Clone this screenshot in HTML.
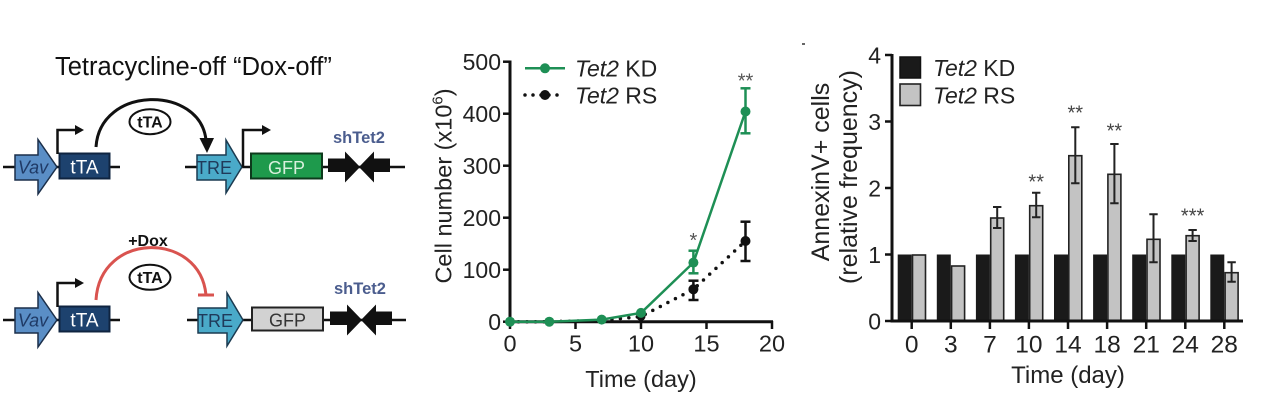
<!DOCTYPE html>
<html>
<head>
<meta charset="utf-8">
<style>
html,body{margin:0;padding:0;background:#fff;}
svg{display:block;font-family:"Liberation Sans",Arial,sans-serif;}
</style>
</head>
<body>
<svg width="1280" height="401" viewBox="0 0 1280 401" xmlns="http://www.w3.org/2000/svg">
<rect width="1280" height="401" fill="#fff"/>

<!-- ================= LEFT DIAGRAM ================= -->
<text x="55" y="75" font-size="25.5" fill="#111">Tetracycline-off “Dox-off”</text>

<!-- top row -->
<g id="row1">
  <line x1="3" y1="167" x2="120" y2="167" stroke="#111" stroke-width="2.5"/>
  <line x1="185" y1="167" x2="405" y2="167" stroke="#111" stroke-width="2.5"/>
  <polygon points="15,155 38,155 38,139.5 57,167 38,194 38,180 15,180" fill="#5a8ec6" stroke="#1b2f4a" stroke-width="1.5"/>
  <text x="33" y="173.5" font-size="18" font-style="italic" fill="#1f3a66" text-anchor="middle">Vav</text>
  <rect x="59.5" y="153.5" width="50" height="25" fill="#1d426e" stroke="#0f2440" stroke-width="2"/>
  <text x="84.5" y="173.5" font-size="19" fill="#fff" text-anchor="middle">tTA</text>
  <path d="M57.5 154 V130 H77" fill="none" stroke="#111" stroke-width="2.5"/>
  <polygon points="75,125 84,130 75,135" fill="#111"/>
  <path d="M96 147 C100 85, 200 85, 206 140" fill="none" stroke="#111" stroke-width="3"/>
  <polygon points="199.5,138 214,138 207,153" fill="#111"/>
  <ellipse cx="150" cy="121.7" rx="20.5" ry="12.5" fill="#fff" stroke="#111" stroke-width="2"/>
  <text x="150" y="127.5" font-size="16" font-weight="bold" fill="#111" text-anchor="middle">tTA</text>
  <polygon points="197,155 226,155 226,140 242,167 226,193 226,180 197,180" fill="#4aaac9" stroke="#1b3a50" stroke-width="1.5"/>
  <text x="214" y="174" font-size="18" fill="#1f3a5a" text-anchor="middle">TRE</text>
  <path d="M243 167 V130 H264" fill="none" stroke="#111" stroke-width="2.5"/>
  <polygon points="262,125 271,130 262,135" fill="#111"/>
  <rect x="251" y="153.5" width="71" height="25" fill="#1e9a4c" stroke="#0d3a1c" stroke-width="2"/>
  <text x="286.5" y="174" font-size="18" fill="#d8f0dc" text-anchor="middle">GFP</text>
  <rect x="328" y="158.5" width="19" height="13.5" fill="#111"/>
  <polygon points="345,151.5 360,167 345,182.5" fill="#111"/>
  <polygon points="374,151.5 359,167 374,182.5" fill="#111"/>
  <rect x="371" y="158.5" width="19" height="13.5" fill="#111"/>
  <text x="333" y="143" font-size="16.5" font-weight="bold" fill="#4b5d8e">shTet2</text>
</g>

<!-- bottom row -->
<g transform="translate(0,153)">
  <line x1="3" y1="167" x2="120" y2="167" stroke="#111" stroke-width="2.5"/>
  <line x1="187" y1="167" x2="406" y2="167" stroke="#111" stroke-width="2.5"/>
  <polygon points="15,155 38,155 38,139.5 57,167 38,194 38,180 15,180" fill="#5a8ec6" stroke="#1b2f4a" stroke-width="1.5"/>
  <text x="33" y="173.5" font-size="18" font-style="italic" fill="#1f3a66" text-anchor="middle">Vav</text>
  <rect x="59.5" y="153.5" width="50" height="25" fill="#1d426e" stroke="#0f2440" stroke-width="2"/>
  <text x="84.5" y="173.5" font-size="19" fill="#fff" text-anchor="middle">tTA</text>
  <path d="M57.5 154 V130 H77" fill="none" stroke="#111" stroke-width="2.5"/>
  <polygon points="75,125 84,130 75,135" fill="#111"/>
  <path d="M96 147 C100 78, 200 78, 206 142" fill="none" stroke="#d9534f" stroke-width="3"/>
  <line x1="198" y1="142" x2="214" y2="142" stroke="#d9534f" stroke-width="3"/>
  <text x="148" y="93" font-size="16" font-weight="bold" fill="#111" text-anchor="middle">+Dox</text>
  <ellipse cx="150" cy="124.3" rx="20.5" ry="12.5" fill="#fff" stroke="#111" stroke-width="2"/>
  <text x="150" y="130" font-size="16" font-weight="bold" fill="#111" text-anchor="middle">tTA</text>
  <polygon points="198,155 227,155 227,140 243,167 227,193 227,180 198,180" fill="#4aaac9" stroke="#1b3a50" stroke-width="1.5"/>
  <text x="215" y="174" font-size="18" fill="#1f3a5a" text-anchor="middle">TRE</text>
  <rect x="252" y="154.5" width="71" height="23" fill="#d2d2d2" stroke="#222" stroke-width="2"/>
  <text x="287.5" y="173.5" font-size="18" fill="#333" text-anchor="middle">GFP</text>
  <rect x="330" y="158.5" width="19" height="13.5" fill="#111"/>
  <polygon points="347,151.5 362,167 347,182.5" fill="#111"/>
  <polygon points="376,151.5 361,167 376,182.5" fill="#111"/>
  <rect x="373" y="158.5" width="19" height="13.5" fill="#111"/>
  <text x="334" y="141" font-size="16.5" font-weight="bold" fill="#4b5d8e">shTet2</text>
</g>

<!-- ================= MIDDLE LINE CHART ================= -->
<g>
  <!-- axes -->
  <line x1="510" y1="60.5" x2="510" y2="323" stroke="#111" stroke-width="3"/>
  <line x1="508.5" y1="321.7" x2="773" y2="321.7" stroke="#111" stroke-width="3"/>
  <g stroke="#111" stroke-width="2.5">
    <line x1="503" y1="61.7" x2="510" y2="61.7"/>
    <line x1="503" y1="113.7" x2="510" y2="113.7"/>
    <line x1="503" y1="165.7" x2="510" y2="165.7"/>
    <line x1="503" y1="217.7" x2="510" y2="217.7"/>
    <line x1="503" y1="269.7" x2="510" y2="269.7"/>
    <line x1="503" y1="321.7" x2="510" y2="321.7"/>
    <line x1="510" y1="321" x2="510" y2="329"/>
    <line x1="575.5" y1="321" x2="575.5" y2="329"/>
    <line x1="641" y1="321" x2="641" y2="329"/>
    <line x1="706.5" y1="321" x2="706.5" y2="329"/>
    <line x1="772" y1="321" x2="772" y2="329"/>
  </g>
  <g font-size="23" fill="#222" text-anchor="end">
    <text x="501" y="70">500</text>
    <text x="501" y="122">400</text>
    <text x="501" y="174">300</text>
    <text x="501" y="226">200</text>
    <text x="501" y="278">100</text>
    <text x="501" y="330">0</text>
  </g>
  <g font-size="23.5" fill="#222" text-anchor="middle">
    <text x="510" y="351.5">0</text>
    <text x="575.5" y="351.5">5</text>
    <text x="641" y="351.5">10</text>
    <text x="706.5" y="351.5">15</text>
    <text x="772" y="351.5">20</text>
  </g>
  <text x="641" y="387" font-size="23.5" fill="#222" text-anchor="middle">Time (day)</text>
  <text transform="translate(451.5,186) rotate(-90)" font-size="23.5" fill="#222" text-anchor="middle">Cell number (x10<tspan font-size="15" dy="-9">6</tspan><tspan dy="9">)</tspan></text>

  <!-- black dotted series -->
  <polyline points="510,321.7 549.3,321.7 601.7,320.5 641,316.5 693.4,289.3 745.5,241" fill="none" stroke="#111" stroke-width="3.5" stroke-linecap="round" stroke-dasharray="0 8.5"/>
  <g stroke="#111" stroke-width="2.5">
    <line x1="693.4" y1="280.7" x2="693.4" y2="300"/>
    <line x1="688.5" y1="280.7" x2="698.5" y2="280.7"/>
    <line x1="688.5" y1="300" x2="698.5" y2="300"/>
    <line x1="745.5" y1="221.7" x2="745.5" y2="261"/>
    <line x1="740.5" y1="221.7" x2="750.5" y2="221.7"/>
    <line x1="740.5" y1="261" x2="750.5" y2="261"/>
  </g>
  <g fill="#111">
    <circle cx="693.4" cy="289.3" r="5"/>
    <circle cx="745.5" cy="241" r="5"/>
    <circle cx="641" cy="316.5" r="4.5"/>
  </g>

  <!-- green series -->
  <polyline points="510,321.7 549.3,321.7 601.7,319.6 641,312.9 693.4,262.6 745.5,111.5" fill="none" stroke="#1e8f55" stroke-width="2.5"/>
  <g stroke="#1e8f55" stroke-width="2.5">
    <line x1="693.4" y1="250.7" x2="693.4" y2="273.3"/>
    <line x1="688.5" y1="250.7" x2="698.5" y2="250.7"/>
    <line x1="688.5" y1="273.3" x2="698.5" y2="273.3"/>
    <line x1="745.5" y1="88.3" x2="745.5" y2="133.3"/>
    <line x1="740.5" y1="88.3" x2="750.5" y2="88.3"/>
    <line x1="740.5" y1="133.3" x2="750.5" y2="133.3"/>
  </g>
  <g fill="#1e8f55">
    <circle cx="510" cy="321.7" r="5"/>
    <circle cx="549.3" cy="321.7" r="5"/>
    <circle cx="601.7" cy="319.6" r="5"/>
    <circle cx="641" cy="312.9" r="5"/>
    <circle cx="693.4" cy="262.6" r="5"/>
    <circle cx="745.5" cy="111.5" r="5"/>
  </g>
  <g font-size="20" fill="#555" text-anchor="middle">
    <text x="745.5" y="87.5">**</text>
    <text x="693.4" y="247">*</text>
  </g>

  <!-- legend -->
  <line x1="525" y1="68.3" x2="565" y2="68.3" stroke="#1e8f55" stroke-width="2.5"/>
  <circle cx="545" cy="68.3" r="5" fill="#1e8f55"/>
  <line x1="525" y1="95" x2="565" y2="95" stroke="#111" stroke-width="3.5" stroke-linecap="round" stroke-dasharray="0 8"/>
  <circle cx="545" cy="95" r="5" fill="#111"/>
  <text x="575" y="76.5" font-size="23" fill="#222"><tspan font-style="italic">Tet2</tspan> KD</text>
  <text x="575" y="103.3" font-size="23" fill="#222"><tspan font-style="italic">Tet2</tspan> RS</text>
</g>

<!-- ================= RIGHT BAR CHART ================= -->
<g>
  <line x1="802" y1="44" x2="805" y2="44" stroke="#333" stroke-width="1.5"/>

  <!-- bars -->
  <g fill="#1a1a1a">
    <rect x="897.7" y="254.5" width="14" height="66.5"/>
    <rect x="936.8" y="254.5" width="14" height="66.5"/>
    <rect x="975.9" y="254.5" width="14" height="66.5"/>
    <rect x="1014.9" y="254.5" width="14" height="66.5"/>
    <rect x="1054" y="254.5" width="14" height="66.5"/>
    <rect x="1093.1" y="254.5" width="14" height="66.5"/>
    <rect x="1132.2" y="254.5" width="14" height="66.5"/>
    <rect x="1171.3" y="254.5" width="14" height="66.5"/>
    <rect x="1210.3" y="254.5" width="14" height="66.5"/>
  </g>
  <g fill="#c3c3c3" stroke="#222" stroke-width="1.6">
    <rect x="912.5" y="255" width="13" height="66"/>
    <rect x="951.6" y="266" width="13" height="55"/>
    <rect x="990.7" y="218" width="13" height="103"/>
    <rect x="1029.7" y="205.7" width="13" height="115.3"/>
    <rect x="1068.8" y="155.7" width="13" height="165.3"/>
    <rect x="1107.9" y="174.3" width="13" height="146.7"/>
    <rect x="1147" y="239.3" width="13" height="81.7"/>
    <rect x="1186.1" y="235.7" width="13" height="85.3"/>
    <rect x="1225.1" y="272.7" width="13" height="48.3"/>
  </g>
  <!-- error bars -->
  <g stroke="#222" stroke-width="2">
    <path d="M997.2 207 V228 M993 207 H1001.4 M993 228 H1001.4"/>
    <path d="M1036.2 192.7 V217.3 M1032 192.7 H1040.4 M1032 217.3 H1040.4"/>
    <path d="M1075.3 127.3 V183.3 M1071.1 127.3 H1079.5 M1071.1 183.3 H1079.5"/>
    <path d="M1114.4 144 V203.3 M1110.2 144 H1118.6 M1110.2 203.3 H1118.6"/>
    <path d="M1153.5 214.3 V262.3 M1149.3 214.3 H1157.7 M1149.3 262.3 H1157.7"/>
    <path d="M1192.6 230 V241 M1188.4 230 H1196.8 M1188.4 241 H1196.8"/>
    <path d="M1231.6 262.3 V281.7 M1227.4 262.3 H1235.8 M1227.4 281.7 H1235.8"/>
  </g>

  <!-- axes -->
  <line x1="892" y1="54" x2="892" y2="322.5" stroke="#111" stroke-width="3"/>
  <line x1="890.5" y1="321" x2="1243" y2="321" stroke="#111" stroke-width="3"/>
  <g stroke="#111" stroke-width="2.5">
    <line x1="885" y1="55" x2="892" y2="55"/>
    <line x1="885" y1="121.5" x2="892" y2="121.5"/>
    <line x1="885" y1="188" x2="892" y2="188"/>
    <line x1="885" y1="254.5" x2="892" y2="254.5"/>
    <line x1="885" y1="321" x2="892" y2="321"/>
    <line x1="911.7" y1="321" x2="911.7" y2="329"/>
    <line x1="950.8" y1="321" x2="950.8" y2="329"/>
    <line x1="989.9" y1="321" x2="989.9" y2="329"/>
    <line x1="1028.9" y1="321" x2="1028.9" y2="329"/>
    <line x1="1068" y1="321" x2="1068" y2="329"/>
    <line x1="1107.1" y1="321" x2="1107.1" y2="329"/>
    <line x1="1146.2" y1="321" x2="1146.2" y2="329"/>
    <line x1="1185.3" y1="321" x2="1185.3" y2="329"/>
    <line x1="1224.3" y1="321" x2="1224.3" y2="329"/>
  </g>
  <g font-size="23" fill="#222" text-anchor="end">
    <text x="881" y="63.3">4</text>
    <text x="881" y="129.8">3</text>
    <text x="881" y="196.3">2</text>
    <text x="881" y="262.8">1</text>
    <text x="881" y="329.3">0</text>
  </g>
  <g font-size="24.5" fill="#222" text-anchor="middle">
    <text x="911.7" y="352.5">0</text>
    <text x="950.8" y="352.5">3</text>
    <text x="989.9" y="352.5">7</text>
    <text x="1028.9" y="352.5">10</text>
    <text x="1068" y="352.5">14</text>
    <text x="1107.1" y="352.5">18</text>
    <text x="1146.2" y="352.5">21</text>
    <text x="1185.3" y="352.5">24</text>
    <text x="1224.3" y="352.5">28</text>
  </g>
  <text x="1068" y="383" font-size="24" fill="#222" text-anchor="middle">Time (day)</text>
  <text transform="translate(829,172) rotate(-90)" font-size="25" fill="#222" text-anchor="middle">AnnexinV+ cells</text>
  <text transform="translate(857,177) rotate(-90)" font-size="25" fill="#222" text-anchor="middle">(relative frequency)</text>

  <g font-size="20" fill="#444" text-anchor="middle">
    <text x="1036.2" y="188.6">**</text>
    <text x="1075.3" y="119.3">**</text>
    <text x="1114.4" y="137.6">**</text>
    <text x="1192.6" y="222.3">***</text>
  </g>

  <!-- legend -->
  <rect x="900" y="57" width="20.5" height="21" fill="#1a1a1a" stroke="#111" stroke-width="1.5"/>
  <rect x="900" y="84" width="20.5" height="21.5" fill="#c3c3c3" stroke="#222" stroke-width="1.6"/>
  <text x="933" y="76" font-size="23" fill="#222"><tspan font-style="italic">Tet2</tspan> KD</text>
  <text x="933" y="103.3" font-size="23" fill="#222"><tspan font-style="italic">Tet2</tspan> RS</text>
</g>
</svg>
</body>
</html>
